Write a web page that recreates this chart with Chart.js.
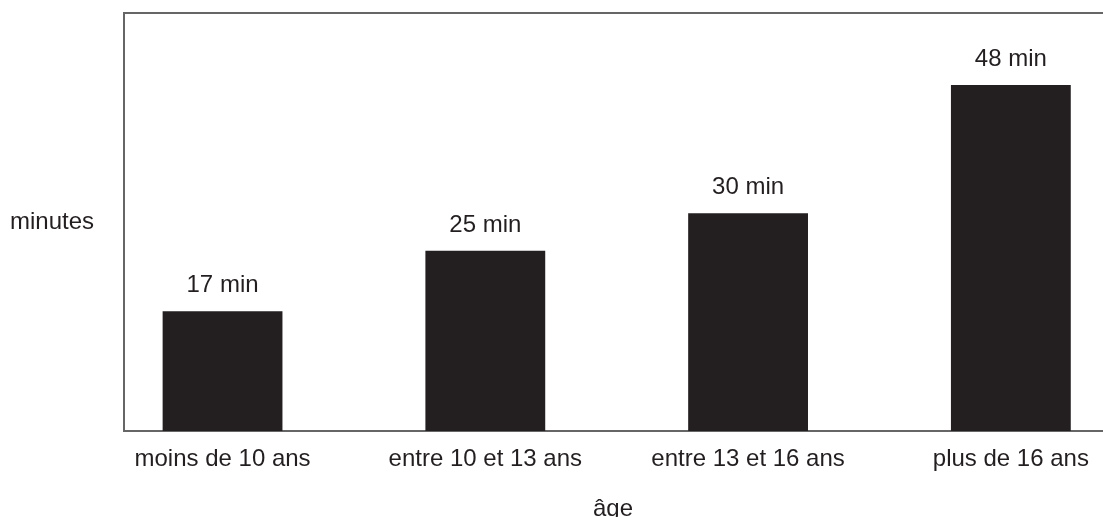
<!DOCTYPE html>
<html>
<head>
<meta charset="utf-8">
<script src="https://cdn.jsdelivr.net/npm/chart.js@4.4.0/dist/chart.umd.min.js"></script>
<style>
    html, body { margin: 0; padding: 0; background: #ffffff; }
    #wrap { position: relative; width: 1103px; height: 517px; }
</style>
</head>
<body>
<div id="wrap"><canvas id="ageChart"></canvas></div>
<script>
// Données
const ageGroups = ['moins de 10 ans', 'entre 10 et 13 ans', 'entre 13 et 16 ans', 'plus de 16 ans'];
const minutes = [16.6, 25, 30.2, 48];
const axisTitleY = 'minutes';
const axisTitleX = 'âge';

const ink = '#231f20';
const lineColor = '#666666';
const fontFamily = '"Liberation Sans", Arial, sans-serif';

Chart.defaults.font.family = fontFamily;
Chart.defaults.font.size = 24;
Chart.defaults.color = ink;

// Étiquettes "xx min" au-dessus des barres + titre horizontal de l'axe Y
const valueLabels = {
    id: 'valueLabels',
    afterDatasetsDraw(chart) {
        const ctx = chart.ctx;
        const meta = chart.getDatasetMeta(0);
        ctx.save();
        ctx.font = '24px ' + fontFamily;
        ctx.fillStyle = ink;
        ctx.textAlign = 'center';
        ctx.textBaseline = 'alphabetic';
        meta.data.forEach((bar, i) => {
            ctx.fillText(Math.round(minutes[i]) + ' min', bar.x, bar.y - 19);
        });
        ctx.textAlign = 'left';
        ctx.fillText(axisTitleY, 10, 229);
        ctx.restore();
    }
};

const chart = new Chart(document.getElementById('ageChart').getContext('2d'), {
    type: 'bar',
    data: {
        datasets: [{
            label: axisTitleY,
            data: minutes.map((v, i) => ({ x: i, y: v })),
            backgroundColor: ink,
            borderWidth: 0,
            barPercentage: 0.456,
            categoryPercentage: 1
        }]
    },
    options: {
        responsive: true,
        maintainAspectRatio: false,
        animation: false,
        devicePixelRatio: 1,
        layout: {
            padding: { left: 124, top: 13, right: 0, bottom: 0 }
        },
        plugins: {
            legend: { display: false },
            tooltip: { enabled: false }
        },
        scales: {
            x: {
                type: 'linear',
                position: 'bottom',
                offset: false,
                min: -0.375,
                max: 3.347,
                afterBuildTicks: (axis) => {
                    axis.ticks = ageGroups.map((_, i) => ({ value: i }));
                },
                ticks: {
                    padding: 14,
                    maxRotation: 0,
                    autoSkip: false,
                    callback: (value) => ageGroups[value]
                },
                grid: { display: false, drawTicks: false },
                border: { display: true, color: lineColor, width: 2 },
                title: {
                    display: true,
                    text: axisTitleX,
                    font: { size: 24, lineHeight: 0.8 },
                    padding: { top: 12, bottom: -2 }
                }
            },
            xTop: {
                type: 'linear',
                position: 'top',
                ticks: { display: false },
                grid: { display: false, drawTicks: false, tickLength: 0 },
                border: { display: true, color: lineColor, width: 2 }
            },
            y: {
                min: 0,
                max: 58,
                ticks: { display: false },
                grid: { display: false, drawTicks: false, tickLength: 0 },
                border: { display: true, color: lineColor, width: 2 }
            }
        }
    },
    plugins: [valueLabels]
});
</script>
</body>
</html>
